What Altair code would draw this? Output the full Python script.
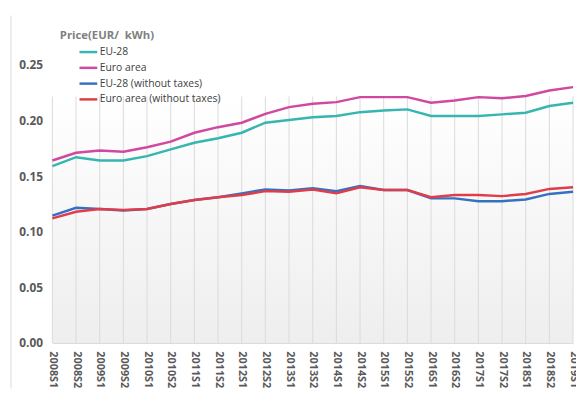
import altair as alt
import pandas as pd

periods = ["2008S1", "2008S2", "2009S1", "2009S2", "2010S1", "2010S2", "2011S1", "2011S2",
           "2012S1", "2012S2", "2013S1", "2013S2", "2014S1", "2014S2", "2015S1", "2015S2",
           "2016S1", "2016S2", "2017S1", "2017S2", "2018S1", "2018S2", "2019S1"]
eu28 = [0.159, 0.167, 0.164, 0.164, 0.168, 0.174, 0.180, 0.184, 0.189, 0.198, 0.2005, 0.203,
        0.204, 0.2075, 0.209, 0.210, 0.204, 0.204, 0.204, 0.2055, 0.207, 0.213, 0.216]
euro = [0.164, 0.171, 0.173, 0.172, 0.176, 0.181, 0.189, 0.194, 0.198, 0.206, 0.212, 0.215,
        0.2165, 0.221, 0.221, 0.221, 0.216, 0.218, 0.221, 0.220, 0.222, 0.227, 0.230]
eu28_nt = [0.1145, 0.1215, 0.1205, 0.119, 0.1205, 0.125, 0.1285, 0.131, 0.1345, 0.138, 0.137, 0.139,
           0.1365, 0.141, 0.1375, 0.1375, 0.130, 0.130, 0.1275, 0.1275, 0.129, 0.134, 0.136]
euro_nt = [0.112, 0.118, 0.1205, 0.1195, 0.1205, 0.125, 0.1285, 0.131, 0.133, 0.1365, 0.136, 0.138,
           0.1345, 0.140, 0.1375, 0.1375, 0.131, 0.133, 0.133, 0.132, 0.134, 0.1385, 0.140]

series_names = ["EU-28", "Euro area", "EU-28 (without taxes)", "Euro area (without taxes)"]
series_values = [eu28, euro, eu28_nt, euro_nt]
colors = ["#35b6b0", "#d0489f", "#3571c1", "#e03c4a"]
y_ticks = [0.0, 0.05, 0.10, 0.15, 0.20, 0.25]

rows = []
for name, vals in zip(series_names, series_values):
    for p, v in zip(periods, vals):
        rows.append({"period": p, "series": name, "price": v})
df = pd.DataFrame(rows)
pdf = pd.DataFrame({"period": periods})

W, H = 528, 282
FONT = "Open Sans"

x_enc = alt.X("period:O", sort=periods, scale=alt.Scale(type="point", padding=0),
              axis=alt.Axis(title=None, labelAngle=90, labelFont=FONT, labelFontSize=11,
                            labelFontWeight="bold", labelColor="#595959", labelPadding=8,
                            ticks=False, grid=False, domain=True, domainColor="#d9d9d9"))

bg = alt.Chart(pd.DataFrame({"a": [0]})).mark_rect(
    fill=alt.Gradient(gradient="linear", x1=0, x2=0, y1=0, y2=1,
                      stops=[alt.GradientStop(color="#ffffff", offset=0),
                             alt.GradientStop(color="#eeeeee", offset=1)])
).encode(x=alt.value(0), x2=alt.value(W), y=alt.value(32), y2=alt.value(H))

grid = alt.Chart(pdf).mark_rule(color="#dadada", strokeWidth=1).encode(
    x=x_enc, y=alt.value(32), y2=alt.value(H))

border = alt.Chart(pd.DataFrame({"a": [0]})).mark_rule(color="#d9d9d9").encode(
    x=alt.value(-42), y=alt.value(-50), y2=alt.value(H + 46))

lines = alt.Chart(df).mark_line(strokeWidth=2.5).encode(
    x=x_enc,
    y=alt.Y("price:Q", scale=alt.Scale(domain=[0, 0.25], nice=False, zero=True),
            axis=alt.Axis(values=y_ticks, format=".2f", grid=False, ticks=False, domain=False,
                          labelFont=FONT, labelFontSize=12, labelFontWeight="bold",
                          labelColor="#595959", labelPadding=10,
                          title="Price(EUR/\u00a0 kWh)", titleAngle=0, titleX=7, titleY=-30,
                          titleAlign="left", titleBaseline="middle", titleFont=FONT,
                          titleFontSize=11.5, titleFontWeight="bold", titleColor="#808080")),
    color=alt.Color("series:N", sort=series_names,
                    scale=alt.Scale(domain=series_names, range=colors),
                    legend=alt.Legend(title=None, orient="none", legendX=30.5, legendY=-19,
                                      padding=0, symbolType="M-2,0H2", symbolSize=81,
                                      symbolStrokeWidth=2.5, labelOffset=5.5, rowPadding=4,
                                      labelFont=FONT, labelFontSize=10.5, labelColor="#404040")),
    order=alt.Order("period:O"),
)

chart = alt.layer(bg, grid, border, lines).properties(
    width=W, height=H,
    padding={"left": 45, "top": 55, "right": 3, "bottom": 44},
    autosize=alt.AutoSizeParams(type="none"),
).configure_view(stroke=None)

chart.save("out.html", embed_options={"renderer": "svg", "actions": False})
